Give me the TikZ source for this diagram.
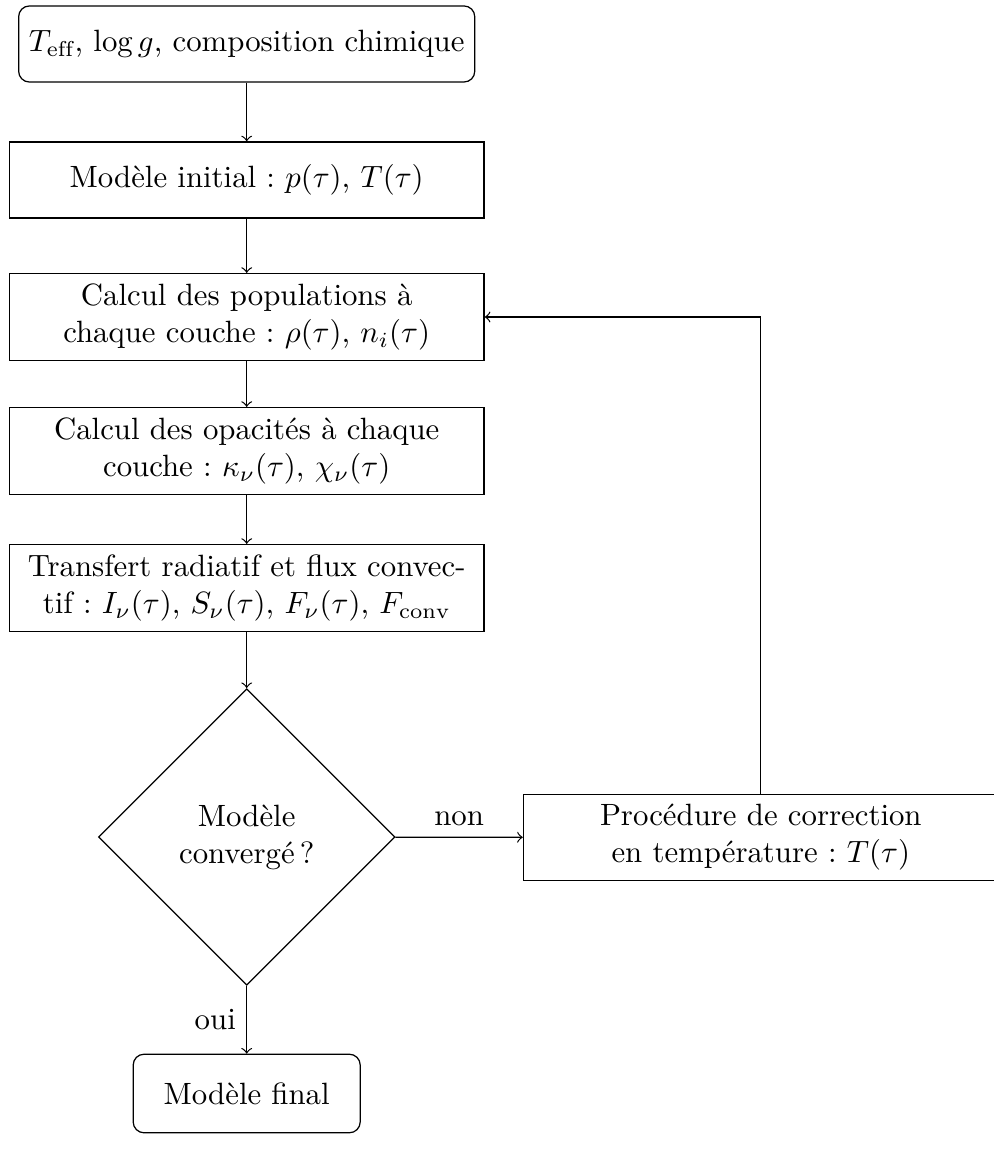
\documentclass[tikz,border=0pt]{standalone}
\usepackage{fontspec}
\usetikzlibrary{shapes.geometric}
\frenchspacing
\begin{document}
\begin{tikzpicture}[x=0.3247pt,y=-0.3247pt,
  box/.style={draw, rectangle, text width=147.5pt, align=center, minimum height=24.7pt, inner sep=3.333pt},
  rbox/.style={draw, rectangle, rounded corners=3.5pt, align=center, minimum height=24.7pt},
  decision/.style={draw, diamond, aspect=1, align=center, minimum width=96.3pt, minimum height=96.3pt, inner sep=1pt},
  arr/.style={->}]
\useasboundingbox (0,0) rectangle (994,1163);
\node[rbox] (start) at (246.7,44) {$T_{\mathrm{eff}}$, $\log g$, composition chimique};
\node[box] (init) at (246.7,180) {Modèle initial : $p(\tau)$, $T(\tau)$};
\node[box] (pop) at (246.7,317) {Calcul des populations à\\ chaque couche : $\rho(\tau)$, $n_i(\tau)$};
\node[box] (opa) at (246.7,451) {Calcul des opacités à chaque\\ couche : $\kappa_\nu(\tau)$, $\chi_\nu(\tau)$};
\node[box] (trans) at (246.7,588) {Transfert radiatif et flux convec-\\tif : $I_\nu(\tau)$, $S_\nu(\tau)$, $F_\nu(\tau)$, $F_{\mathrm{conv}}$};
\node[decision] (dec) at (246.7,837) {Modèle\\ convergé\,?};
\node[box] (corr) at (760.8,837.5) {Procédure de correction\\ en température : $T(\tau)$};
\node[rbox, minimum width=73.7pt, minimum height=25.5pt] (final) at (246.7,1093.5) {Modèle final};
\draw[arr] (start) -- (init);
\draw[arr] (init) -- (pop);
\draw[arr] (pop) -- (opa);
\draw[arr] (opa) -- (trans);
\draw[arr] (trans) -- (dec);
\draw[arr] (dec) -- node[above] {non} (corr);
\draw[arr] (dec) -- node[left] {oui} (final);
\draw[arr] (corr.north) |- (pop);
\end{tikzpicture}
\end{document}
